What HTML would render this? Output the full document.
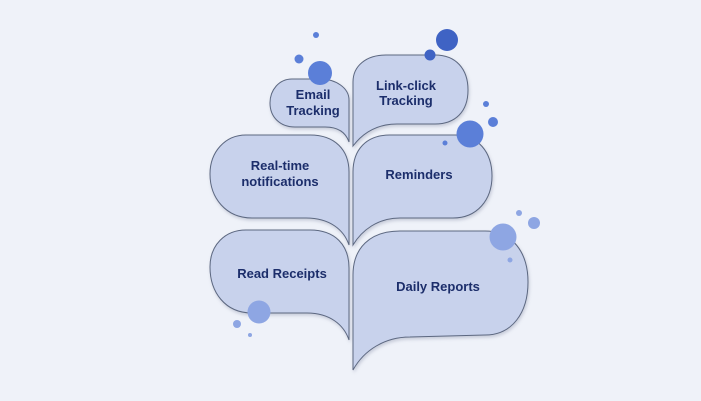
<!DOCTYPE html>
<html><head><meta charset="utf-8"><style>
html,body{margin:0;padding:0;background:#eff2f9;}
svg{display:block}
text{font-family:"Liberation Sans",sans-serif;font-weight:bold;font-size:13px;fill:#1c2e6b;text-anchor:middle}
</style></head><body>
<svg width="701" height="401" viewBox="0 0 701 401">
<defs><filter id="s" x="-10%" y="-10%" width="130%" height="130%"><feDropShadow dx="1" dy="2" stdDeviation="1.5" flood-color="#8890a8" flood-opacity="0.4"/></filter></defs>
<rect width="701" height="401" fill="#eff2f9"/>
<g fill="#c8d2ec" stroke="#5c6780" stroke-width="1" filter="url(#s)">
<path d="M349,142 L349,100 C349,88 336,79 320,79 L292,79 C279,79 270,90 270,103 C270,117 280,127 295,127 L325,127 C339,127 346,133 349,142 Z"/>
<path d="M353,146 L353,82 C353,66 366,55 386,55 L435,55 C456,55 468,69 468,90 C468,112 455,124 435,124 L397,124 C376,124 362,134 353,146 Z"/>
<path d="M349,245 L349,172 C349,150 335,135 310,135 L246,135 C225,135 210,152 210,174 C210,198 226,218 252,218 L306,218 C330,218 344,230 349,245 Z"/>
<path d="M353,245 L353,172 C353,150 366,135 390,135 L455,135 C478,135 492,152 492,176 C492,200 477,218 453,218 L400,218 C378,218 362,230 353,245 Z"/>
<path d="M349,340 L349,268 C349,245 335,230 310,230 L246,230 C225,230 210,245 210,267 C210,292 225,313 252,313 L307,313 C330,313 344,325 349,340 Z"/>
<path d="M353,370 L353,275 C353,248 370,231 400,231 L485,231 C512,231 528,252 528,282 C528,313 512,335 485,335 L410,337 C385,337 364,350 353,370 Z"/>
</g>
<text x="313" y="99">Email</text><text x="313" y="115">Tracking</text>
<text x="406" y="90">Link-click</text><text x="406" y="105">Tracking</text>
<text x="280" y="170">Real-time</text><text x="280" y="186">notifications</text>
<text x="419" y="179">Reminders</text>
<text x="282" y="278">Read Receipts</text>
<text x="438" y="291">Daily Reports</text>
<g fill="#5b7fd8">
<circle cx="316" cy="35" r="3"/><circle cx="299" cy="59" r="4.5"/><circle cx="320" cy="73" r="12"/>
<circle cx="486" cy="104" r="3"/><circle cx="493" cy="122" r="5"/><circle cx="470" cy="134" r="13.5"/><circle cx="445" cy="143" r="2.5"/>
</g>
<g fill="#3f63c4"><circle cx="447" cy="40" r="11"/><circle cx="430" cy="55" r="5.5"/></g>
<g fill="#8ea6e3">
<circle cx="519" cy="213" r="3"/><circle cx="534" cy="223" r="6"/><circle cx="503" cy="237" r="13.5"/><circle cx="510" cy="260" r="2.5"/>
<circle cx="259" cy="312" r="11.5"/><circle cx="237" cy="324" r="4"/><circle cx="250" cy="335" r="2"/>
</g>
</svg>
</body></html>
